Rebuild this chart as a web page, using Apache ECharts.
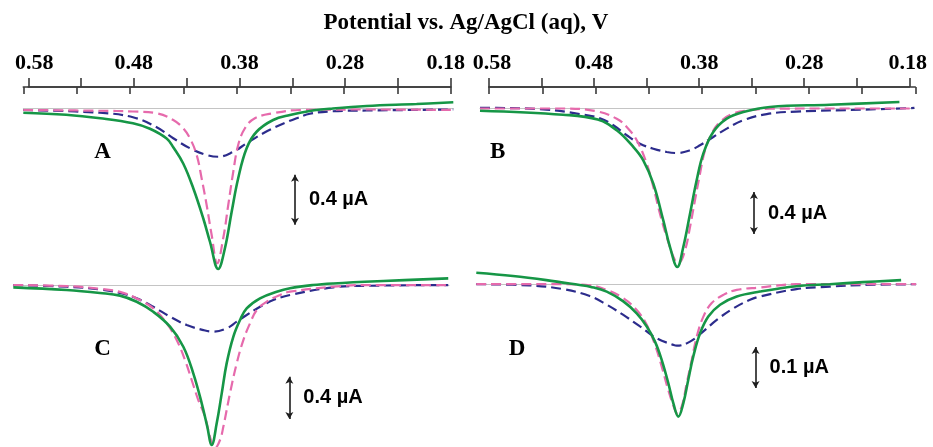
<!DOCTYPE html>
<html><head><meta charset="utf-8">
<script src="https://cdn.jsdelivr.net/npm/echarts@6/dist/echarts.min.js"></script>
<style>html,body{margin:0;padding:0;background:#fff}#c{width:933px;height:447px}</style>
</head><body><div id="c"></div>
<script>
// ---------- DATA (potential in V, current in µA relative to each panel's baseline) ----------
const axisTitle = 'Potential vs. Ag/AgCl (aq), V';
const topAxisRange = [0.18, 0.58];
const panelLetters = ['A', 'B', 'C', 'D'];
const scaleLabels = ['0.4 µA', '0.4 µA', '0.4 µA', '0.1 µA'];
// scale bars: [potential, current start, current end]
const scaleBars = [[0.326, -0.53, -0.93], [0.324, -0.80, -1.20], [0.322, -0.865, -1.265], [0.322, -0.153, -0.253]];

const aGreen = [[0.58,-0.034],[0.54,-0.05],[0.508,-0.078],[0.4775,-0.118],[0.4616,-0.162],[0.446,-0.24],[0.4398,-0.31],[0.4305,-0.44],[0.4211,-0.638],[0.4118,-0.878],[0.4055,-1.066],[0.3978,-1.284],[0.3915,-1.118],[0.3852,-0.826],[0.3791,-0.558],[0.3712,-0.318],[0.3619,-0.186],[0.3464,-0.092],[0.3307,-0.052],[0.312,-0.02],[0.2906,0.0],[0.2591,0.02],[0.2123,0.036],[0.178,0.05]];
const aPink = [[0.58,-0.012],[0.5083,-0.018],[0.4775,-0.024],[0.4553,-0.038],[0.4398,-0.092],[0.4305,-0.158],[0.4242,-0.238],[0.4179,-0.372],[0.4133,-0.558],[0.4086,-0.772],[0.4039,-1.012],[0.3987,-1.238],[0.3931,-1.038],[0.3884,-0.772],[0.3837,-0.506],[0.3791,-0.292],[0.3728,-0.158],[0.3635,-0.078],[0.3464,-0.038],[0.3214,-0.012],[0.25,-0.008],[0.178,-0.012]];
const aNavy = [[0.58,-0.012],[0.5083,-0.034],[0.4775,-0.07],[0.4553,-0.15],[0.4398,-0.238],[0.4242,-0.318],[0.4086,-0.372],[0.3978,-0.386],[0.3837,-0.346],[0.3712,-0.278],[0.3557,-0.198],[0.34,-0.132],[0.3245,-0.078],[0.312,-0.042],[0.2906,-0.022],[0.2591,-0.016],[0.178,-0.008]];

const bGreen = [[0.58,-0.026],[0.5024,-0.064],[0.47,-0.11],[0.4522,-0.212],[0.4367,-0.371],[0.4274,-0.498],[0.418,-0.721],[0.4087,-1.07],[0.4024,-1.324],[0.3956,-1.514],[0.39,-1.324],[0.3837,-1.007],[0.3775,-0.689],[0.3713,-0.435],[0.362,-0.229],[0.3494,-0.102],[0.3339,-0.038],[0.309,0.01],[0.2532,0.031],[0.188,0.057]];
const bPink = [[0.58,-0.005],[0.5024,-0.005],[0.4713,-0.031],[0.4522,-0.102],[0.4429,-0.181],[0.4335,-0.308],[0.4242,-0.53],[0.418,-0.752],[0.4118,-1.007],[0.4055,-1.229],[0.3978,-1.45],[0.394,-1.47],[0.3884,-1.355],[0.3837,-1.133],[0.3791,-0.879],[0.3744,-0.626],[0.3697,-0.403],[0.3635,-0.245],[0.3557,-0.133],[0.3433,-0.054],[0.3277,-0.022],[0.309,-0.007],[0.25,-0.005],[0.174,-0.005]];
const bNavy = [[0.58,0],[0.5648,0],[0.518,-0.016],[0.4868,-0.058],[0.4679,-0.098],[0.4554,-0.165],[0.4429,-0.26],[0.4305,-0.34],[0.418,-0.388],[0.4055,-0.419],[0.3962,-0.429],[0.3837,-0.403],[0.3744,-0.355],[0.362,-0.276],[0.3494,-0.197],[0.3339,-0.117],[0.312,-0.058],[0.2844,-0.034],[0.222,-0.016],[0.174,0]];

const cGreen = [[0.58,-0.022],[0.5301,-0.047],[0.499,-0.075],[0.4803,-0.1],[0.4647,-0.158],[0.4492,-0.252],[0.4335,-0.393],[0.4211,-0.582],[0.4118,-0.833],[0.4039,-1.116],[0.3987,-1.337],[0.3946,-1.509],[0.3899,-1.305],[0.3852,-1.022],[0.3806,-0.739],[0.3744,-0.488],[0.3681,-0.33],[0.3619,-0.22],[0.3494,-0.125],[0.3338,-0.063],[0.3214,-0.03],[0.30,0.0],[0.2809,0.015],[0.2342,0.038],[0.1735,0.063]];
const cPink = [[0.58,0.0],[0.5301,-0.01],[0.499,-0.035],[0.4803,-0.065],[0.4647,-0.126],[0.4492,-0.22],[0.4366,-0.362],[0.4273,-0.519],[0.4195,-0.708],[0.4133,-0.896],[0.4071,-1.085],[0.4008,-1.242],[0.3962,-1.431],[0.3915,-1.541],[0.3868,-1.462],[0.3837,-1.337],[0.3775,-1.022],[0.3712,-0.739],[0.365,-0.519],[0.3588,-0.362],[0.3525,-0.236],[0.3432,-0.157],[0.3308,-0.094],[0.3214,-0.063],[0.2809,-0.016],[0.2497,0],[0.1735,0]];
const cNavy = [[0.58,0],[0.5301,-0.016],[0.499,-0.042],[0.4803,-0.075],[0.4647,-0.126],[0.4492,-0.205],[0.4335,-0.299],[0.4179,-0.377],[0.4024,-0.425],[0.3931,-0.44],[0.3806,-0.409],[0.3712,-0.346],[0.3619,-0.283],[0.3494,-0.205],[0.337,-0.142],[0.3214,-0.094],[0.2809,-0.022],[0.2497,-0.007],[0.1735,0]];

const dGreen = [[0.583,0.028],[0.5487,0.02],[0.5176,0.01],[0.4864,-0.002],[0.4767,-0.006],[0.4611,-0.018],[0.4456,-0.042],[0.4331,-0.071],[0.4237,-0.103],[0.416,-0.14],[0.4097,-0.185],[0.4036,-0.241],[0.3989,-0.29],[0.3942,-0.323],[0.3895,-0.29],[0.3849,-0.233],[0.3802,-0.176],[0.3739,-0.12],[0.3662,-0.079],[0.3552,-0.05],[0.3396,-0.03],[0.3179,-0.018],[0.2839,-0.005],[0.2527,0],[0.2216,0.005],[0.186,0.01]];
const dPink = [[0.583,0],[0.502,0],[0.4767,-0.003],[0.4611,-0.014],[0.4456,-0.034],[0.4331,-0.063],[0.4237,-0.099],[0.416,-0.148],[0.4097,-0.201],[0.4036,-0.258],[0.3973,-0.307],[0.3951,-0.315],[0.391,-0.298],[0.3863,-0.241],[0.3817,-0.185],[0.377,-0.128],[0.3708,-0.079],[0.363,-0.046],[0.3521,-0.026],[0.3396,-0.014],[0.3179,-0.008],[0.284,0],[0.172,0]];
const dNavy = [[0.583,0],[0.5331,-0.003],[0.502,-0.012],[0.477,-0.029],[0.4611,-0.05],[0.4456,-0.075],[0.43,-0.103],[0.4144,-0.132],[0.3989,-0.148],[0.3957,-0.15],[0.3833,-0.14],[0.3708,-0.115],[0.3583,-0.087],[0.3428,-0.059],[0.3272,-0.038],[0.3179,-0.03],[0.2839,-0.012],[0.2527,-0.006],[0.2216,-0.002],[0.172,0]];

const panelSeries = [[aNavy, aPink, aGreen], [bNavy, bPink, bGreen], [cNavy, cPink, cGreen], [dNavy, dPink, dGreen]];

// ---------- LAYOUT / STYLE ----------
const panelLayout = [
  {left: 23.3, width: 430, top: 96, height: 184, xmin: 0.178, xmax: 0.58, ymin: -1.372, ymax: 0.1},
  {left: 480, width: 434.4, top: 96, height: 184, xmin: 0.174, xmax: 0.58, ymin: -1.638, ymax: 0.114},
  {left: 13.3, width: 435.7, top: 265, height: 182, xmin: 0.1728, xmax: 0.58, ymin: -1.528, ymax: 0.189},
  {left: 476.3, width: 439.8, top: 265, height: 182, xmin: 0.172, xmax: 0.583, ymin: -0.397, ymax: 0.0468}
];
const letterPos = [[102.5, 152.5], [497.7, 151.7], [102.5, 349], [517, 349]];
// label nudges (rich padding)
const topAxes = [
  {left: 23.3, width: 427.4, padMax: [0, 0, 0, 12], padMin: [0, 10, 0, 0]},
  {left: 489, width: 426.3, padMax: [0, 0, 0, 6], padMin: [0, 3, 0, 0]}
];
const lineStyles = [
  {color: '#2c2c8c', width: 2.2, type: [10, 5]},
  {color: '#e66aac', width: 2.2, type: [10, 5]},
  {color: '#169646', width: 2.6, type: 'solid'}
];
const serif = '"Liberation Serif", "Times New Roman", serif';
const sans = '"Liberation Sans", Arial, sans-serif';

const grids = [], xAxes = [], yAxes = [], series = [];
panelLayout.forEach((p, i) => {
  grids.push({left: p.left, width: p.width, top: p.top, height: p.height, containLabel: false});
  xAxes.push({gridIndex: i, type: 'value', min: p.xmin, max: p.xmax, inverse: true,
    axisLine: {show: true, onZero: true, lineStyle: {color: '#c4c4c4', width: 1}},
    axisTick: {show: false}, axisLabel: {show: false}, splitLine: {show: false}});
  yAxes.push({gridIndex: i, type: 'value', min: p.ymin, max: p.ymax, show: false, splitLine: {show: false}});
  panelSeries[i].forEach((d, k) => {
    series.push({type: 'line', xAxisIndex: i, yAxisIndex: i, data: d, showSymbol: false, symbol: 'none',
      smooth: 0.4, lineStyle: lineStyles[k], z: 2 + k, silent: true});
  });
  const sb = scaleBars[i];
  series.push({type: 'line', xAxisIndex: i, yAxisIndex: i, data: [], symbol: 'none', silent: true,
    markLine: {silent: true, symbol: ['arrow', 'arrow'], symbolSize: [6, 7], animation: false,
      lineStyle: {color: '#1e1e1e', width: 1.6, type: 'solid'}, label: {show: false},
      data: [[{coord: [sb[0], sb[1]]}, {coord: [sb[0], sb[2]]}]]}});
  series.push({type: 'scatter', xAxisIndex: i, yAxisIndex: i, symbolSize: 0, silent: true,
    itemStyle: {opacity: 1},
    data: [[sb[0], (sb[1] + sb[2]) / 2]],
    label: {show: true, position: 'right', distance: 14, formatter: scaleLabels[i], opacity: 1,
      fontFamily: sans, fontWeight: 'bold', fontSize: 20, color: '#000'}});
});

// top potential axes (ticks crossing the axis line: one axis with outward ticks, one with inward)
const labelFont = {fontFamily: serif, fontWeight: 'bold', fontSize: 22, lineHeight: 22, color: '#000'};
topAxes.forEach((t) => {
  [false, true].forEach((inside) => {
    const gi = grids.length;
    grids.push({left: t.left, width: t.width, top: 87, height: 20});
    xAxes.push({gridIndex: gi, type: 'value', position: 'top', min: topAxisRange[0], max: topAxisRange[1],
      interval: 0.05, inverse: true,
      axisLine: {show: true, onZero: false, lineStyle: {color: '#3a3a3a', width: 1.6}},
      axisTick: {show: true, inside: inside, length: inside ? 7 : 9, lineStyle: {color: '#3a3a3a', width: 1.6}},
      axisLabel: Object.assign({show: !inside, margin: 13,
        formatter: (v) => {
          if (Math.round(v * 100) % 10 !== 8) return '';
          const s = v.toFixed(2);
          if (Math.abs(v - topAxisRange[1]) < 1e-6) return '{mx|' + s + '}';
          if (Math.abs(v - topAxisRange[0]) < 1e-6) return '{mn|' + s + '}';
          return '{n|' + s + '}';
        },
        rich: {
          mx: Object.assign({padding: t.padMax}, labelFont),
          mn: Object.assign({padding: t.padMin}, labelFont),
          n: Object.assign({}, labelFont)
        }}, labelFont),
      splitLine: {show: false}});
    yAxes.push({gridIndex: gi, type: 'value', show: false, min: 0, max: 1});
  });
});

const graphics = panelLetters.map((L, i) => ({type: 'text', x: letterPos[i][0], y: letterPos[i][1], silent: true,
  style: {text: L, fill: '#000', font: 'bold 23px ' + serif, textAlign: 'center', textVerticalAlign: 'middle'}}));
graphics.push({type: 'text', x: 466, y: 23.5, silent: true,
  style: {text: axisTitle, fill: '#000', font: 'bold 23px ' + serif, textAlign: 'center', textVerticalAlign: 'middle'}});

const chart = echarts.init(document.getElementById('c'), null, {renderer: 'canvas'});
chart.setOption({
  animation: false, backgroundColor: '#fff',
  grid: grids, xAxis: xAxes, yAxis: yAxes, series: series, graphic: graphics
});
</script></body></html>
